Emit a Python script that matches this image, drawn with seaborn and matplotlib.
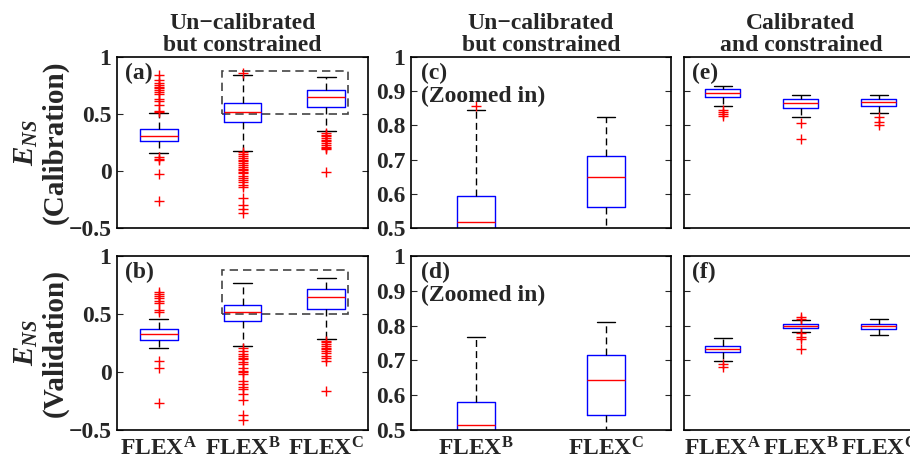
import matplotlib

matplotlib.use("Agg")
import matplotlib.pyplot as plt
import pandas as pd
import seaborn as sns
from matplotlib.patches import Rectangle
from matplotlib.ticker import FuncFormatter

MODELS = ["FLEX$^{\\rm A}$", "FLEX$^{\\rm B}$", "FLEX$^{\\rm C}$"]

# box summaries per model: lower whisker, Q1, median, Q3, upper whisker
UNCAL_CAL_BOX = [
    [0.155, 0.263, 0.310, 0.366, 0.509],
    [0.178, 0.427, 0.517, 0.594, 0.846],
    [0.348, 0.562, 0.648, 0.711, 0.826],
]
UNCAL_VAL_BOX = [
    [0.204, 0.279, 0.325, 0.368, 0.457],
    [0.222, 0.437, 0.514, 0.581, 0.767],
    [0.282, 0.544, 0.643, 0.717, 0.810],
]
CAL_CAL_BOX = [
    [0.857, 0.883, 0.896, 0.906, 0.916],
    [0.825, 0.852, 0.866, 0.876, 0.889],
    [0.836, 0.858, 0.869, 0.878, 0.888],
]
CAL_VAL_BOX = [
    [0.697, 0.723, 0.732, 0.742, 0.765],
    [0.782, 0.793, 0.798, 0.804, 0.816],
    [0.772, 0.790, 0.798, 0.805, 0.819],
]

# outliers per model
UNCAL_CAL_OUT = [
    [0.842, 0.80, 0.77, 0.755, 0.74, 0.73, 0.71, 0.69, 0.68, 0.63, 0.61, 0.58,
     0.53, 0.515, 0.12, 0.105, 0.095, -0.03, -0.26],
    [0.858, 0.165, 0.15, 0.13, 0.115, 0.10, 0.085, 0.07, 0.05, 0.035, 0.02,
     0.005, -0.005, -0.02, -0.04, -0.06, -0.08, -0.10, -0.12, -0.14, -0.24,
     -0.30, -0.335, -0.365],
    [0.335, 0.32, 0.305, 0.29, 0.275, 0.26, 0.245, 0.23, 0.215, 0.20, 0.19,
     -0.005],
]
UNCAL_VAL_OUT = [
    [0.69, 0.67, 0.655, 0.635, 0.615, 0.595, 0.535, 0.515, 0.095, 0.035, -0.265],
    [0.205, 0.18, 0.155, 0.135, 0.12, 0.11, 0.09, 0.065, 0.035, 0.01, 0.0,
     -0.015, -0.08, -0.105, -0.125, -0.15, -0.19, -0.24, -0.37, -0.41],
    [0.27, 0.255, 0.24, 0.225, 0.21, 0.195, 0.18, 0.16, 0.14, 0.12, 0.095, -0.16],
]
CAL_CAL_OUT = [
    [0.845, 0.840, 0.834, 0.828],
    [0.807, 0.760],
    [0.825, 0.811, 0.801],
]
CAL_VAL_OUT = [
    [0.690, 0.682],
    [0.826, 0.818, 0.780, 0.767, 0.762, 0.732],
    [],
]

ZOOM_Y = (0.5, 0.88)  # dashed region shown in the zoomed panels

sns.set_style("ticks")
plt.rcParams.update({
    "font.family": "serif",
    "font.serif": ["Liberation Serif", "DejaVu Serif"],
    "font.weight": "bold",
    "mathtext.fontset": "custom",
    "mathtext.rm": "Liberation Serif:bold",
    "mathtext.it": "Liberation Serif:italic:bold",
    "mathtext.bf": "Liberation Serif:bold",
    "axes.linewidth": 1.2,
    "axes.edgecolor": "black",
})

FS = 17


def long_frame(values, models):
    rows = [(m, v) for m, vals in zip(models, values) for v in vals]
    return pd.DataFrame(rows, columns=["model", "ens"])


def draw_panel(ax, box_stats, outliers, models, width, ylim):
    sns.boxplot(
        data=long_frame(box_stats, models), x="model", y="ens", order=models,
        whis=(0, 100), width=width, fill=False, showfliers=False, linewidth=1.0,
        boxprops=dict(color="blue"), medianprops=dict(color="red"),
        whiskerprops=dict(color="black", linestyle=(0, (5, 3))),
        capprops=dict(color="black"), ax=ax,
    )
    out = long_frame(outliers, models)
    if len(out):
        sns.stripplot(
            data=out, x="model", y="ens", order=models, jitter=False,
            marker="+", color="red", size=6.5, linewidth=1.0, ax=ax,
        )
    ax.set_xlim(-0.5, len(models) - 0.5)
    ax.set_ylim(*ylim)
    ax.set_xlabel("")
    ax.set_ylabel("")
    ax.tick_params(axis="x", length=0, labelsize=FS, pad=5)
    ax.tick_params(axis="y", direction="in", right=True, length=4, width=0.8,
                   labelsize=FS, pad=4)
    for s in ax.spines.values():
        s.set_visible(True)
        s.set_linewidth(1.2)


def zoom_rect(ax):
    x0 = 1 - 0.25
    x1 = 2 + 0.26
    ax.add_patch(Rectangle((x0, ZOOM_Y[0]), x1 - x0, ZOOM_Y[1] - ZOOM_Y[0],
                           fill=False, ec="#444444", lw=1.2, ls=(0, (5, 3)),
                           zorder=1))


fmt = FuncFormatter(lambda v, _: ("%g" % round(v, 3)).replace("-", "\u2212"))

fig = plt.figure(figsize=(9.1, 4.61), dpi=100)
cols = [(0.1286, 0.2758), (0.4516, 0.2857), (0.7516, 0.2571)]
rows = [(0.5054, 0.3709), (0.0672, 0.3774)]
axes = [[fig.add_axes([c[0], r[0], c[1], r[1]]) for c in cols] for r in rows]

panels = [
    (UNCAL_CAL_BOX, UNCAL_CAL_OUT, CAL_CAL_BOX, CAL_CAL_OUT, "(a)", "(c)", "(e)"),
    (UNCAL_VAL_BOX, UNCAL_VAL_OUT, CAL_VAL_BOX, CAL_VAL_OUT, "(b)", "(d)", "(f)"),
]

for i, (ub, uo, cb, co, la, lz, lc) in enumerate(panels):
    a1, a2, a3 = axes[i]
    draw_panel(a1, ub, uo, MODELS, 0.45, (-0.5, 1))
    zoom_rect(a1)
    a1.set_yticks([-0.5, 0, 0.5, 1])
    a1.yaxis.set_major_formatter(fmt)

    draw_panel(a2, ub[1:], uo[1:], MODELS[1:], 0.29, (0.5, 1))
    a2.set_yticks([0.5, 0.6, 0.7, 0.8, 0.9, 1.0])
    a2.yaxis.set_major_formatter(fmt)

    draw_panel(a3, cb, co, MODELS, 0.45, (0.5, 1))
    a3.set_yticks([0.5, 0.6, 0.7, 0.8, 0.9, 1.0])
    a3.set_yticklabels([])

    a1.text(0.032, 0.965, la, transform=a1.transAxes, ha="left", va="top",
            fontsize=FS, fontweight="bold")
    a2.text(0.037, 0.965, lz + "\n(Zoomed in)", transform=a2.transAxes,
            ha="left", va="top", fontsize=FS, fontweight="bold", linespacing=1.1)
    a3.text(0.035, 0.965, lc, transform=a3.transAxes, ha="left", va="top",
            fontsize=FS, fontweight="bold")

    if i == 0:
        for ax in (a1, a2, a3):
            ax.set_xticklabels([])

titles = ["Un\u2212calibrated\nbut constrained", "Un\u2212calibrated\nbut constrained",
          "Calibrated\nand constrained"]
for ax, t in zip(axes[0], titles):
    ax.set_title(t, fontsize=FS, fontweight="bold", pad=4, linespacing=1.1)

fig.text(0.045, 0.691, "$E_{NS}$\n(Calibration)", rotation=90, ha="center",
         va="center", fontsize=21, fontweight="bold", multialignment="center",
         linespacing=1.05)
fig.text(0.045, 0.256, "$E_{NS}$\n(Validation)", rotation=90, ha="center",
         va="center", fontsize=21, fontweight="bold", multialignment="center",
         linespacing=1.05)

fig.savefig("out.png", dpi=100)
